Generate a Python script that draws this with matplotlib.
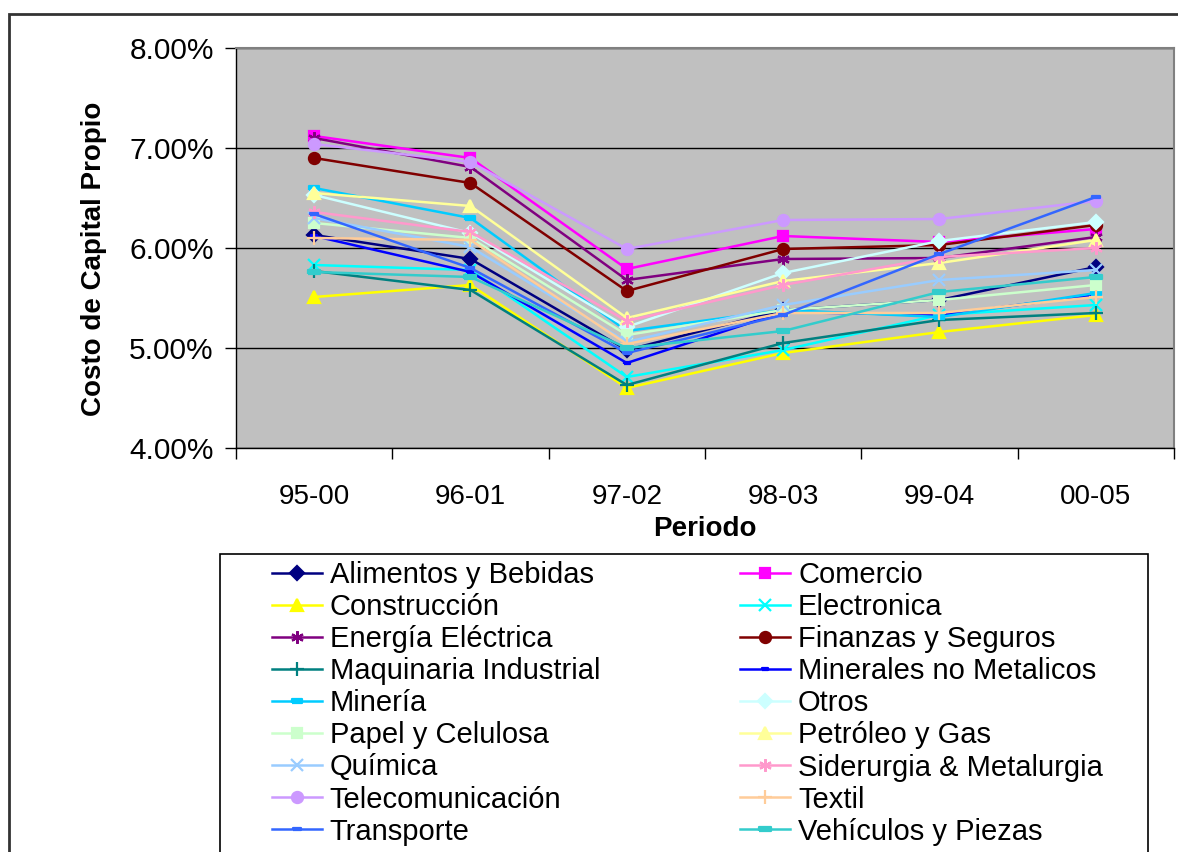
import matplotlib.pyplot as plt
from matplotlib.patches import Rectangle
from matplotlib.ticker import FixedLocator, FuncFormatter

plt.rcParams['font.family'] = ['Liberation Sans', 'DejaVu Sans']

periodos = ['95-00', '96-01', '97-02', '98-03', '99-04', '00-05']

sectores = [
    'Alimentos y Bebidas', 'Comercio', 'Construcción', 'Electronica',
    'Energía Eléctrica', 'Finanzas y Seguros', 'Maquinaria Industrial',
    'Minerales no Metalicos', 'Minería', 'Otros', 'Papel y Celulosa',
    'Petróleo y Gas', 'Química', 'Siderurgia & Metalurgia',
    'Telecomunicación', 'Textil', 'Transporte', 'Vehículos y Piezas',
]

# costo de capital propio (%) por sector y periodo
alimentos = [6.13, 5.89, 4.98, 5.38, 5.48, 5.81]
comercio = [7.12, 6.90, 5.79, 6.12, 6.06, 6.19]
construccion = [5.51, 5.63, 4.60, 4.95, 5.16, 5.33]
electronica = [5.83, 5.78, 4.71, 4.98, 5.33, 5.43]
energia = [7.10, 6.81, 5.68, 5.89, 5.90, 6.11]
finanzas = [6.90, 6.65, 5.57, 5.99, 6.03, 6.23]
maquinaria = [5.77, 5.58, 4.63, 5.05, 5.28, 5.35]
minerales = [6.12, 5.76, 4.85, 5.36, 5.33, 5.53]
mineria = [6.60, 6.30, 5.17, 5.38, 5.31, 5.55]
otros = [6.53, 6.15, 5.21, 5.75, 6.07, 6.26]
papel = [6.25, 6.10, 5.13, 5.38, 5.48, 5.63]
petroleo = [6.55, 6.42, 5.30, 5.67, 5.85, 6.08]
quimica = [6.30, 6.01, 5.06, 5.43, 5.68, 5.78]
siderurgia = [6.36, 6.16, 5.27, 5.63, 5.91, 6.00]
telecom = [7.04, 6.86, 5.99, 6.28, 6.29, 6.47]
textil = [6.10, 6.08, 5.04, 5.35, 5.35, 5.51]
transporte = [6.34, 5.80, 4.95, 5.33, 5.94, 6.51]
vehiculos = [5.76, 5.71, 5.00, 5.17, 5.56, 5.71]

valores = [alimentos, comercio, construccion, electronica, energia, finanzas,
           maquinaria, minerales, mineria, otros, papel, petroleo, quimica,
           siderurgia, telecom, textil, transporte, vehiculos]

colores = ['#000080', '#FF00FF', '#FFFF00', '#00FFFF', '#800080', '#800000',
           '#008080', '#0000FF', '#00CCFF', '#CCFFFF', '#CCFFCC', '#FFFF99',
           '#99CCFF', '#FF99CC', '#CC99FF', '#FFCC99', '#3366FF', '#33CCCC']

guion = [(-1, -0.35), (1, -0.35), (1, 0.35), (-1, 0.35), (-1, -0.35)]
asterisco = (6, 2, 0)
marcadores = ['D', 's', '^', 'x', asterisco, 'o', '+', guion, guion,
              'D', 's', '^', 'x', asterisco, 'o', '+', guion, guion]
tamanos = [7, 7, 8, 8, 9, 8, 10, 5, 7, 7, 7, 8, 8, 9, 8, 10, 6, 8]

fig = plt.figure(figsize=(11.78, 8.52), dpi=100)
W, H = 1178, 852
ax = fig.add_axes([236 / W, 1 - 448 / H, 938 / W, 400 / H])
ax.set_facecolor('#C0C0C0')

x = list(range(len(periodos)))
lineas = []
for nombre, vals, c, m, ms in zip(sectores, valores, colores, marcadores, tamanos):
    ln, = ax.plot(x, vals, color=c, marker=m, markersize=ms, lw=1.8,
                  markerfacecolor=c, markeredgecolor=c, mew=1.6,
                  label=nombre, clip_on=False)
    lineas.append(ln)

ax.set_xlim(-0.5, 5.5)
ax.set_ylim(4, 8)
ax.set_yticks([4, 5, 6, 7, 8])
ax.yaxis.set_major_formatter(FuncFormatter(lambda v, p: f'{v:.2f}%'))
ax.grid(axis='y', color='black', lw=1)
ax.set_axisbelow(True)

ax.set_xticks(x)
ax.set_xticklabels(periodos)
ax.xaxis.set_minor_locator(FixedLocator([i - 0.5 for i in range(7)]))
ax.tick_params(axis='x', which='major', length=0, pad=26, labelsize=20)
ax.tick_params(axis='x', which='minor', length=8, width=1, direction='out')
ax.tick_params(axis='y', length=8, width=1, direction='out', pad=8, labelsize=21.5)

for lado in ['top', 'right']:
    ax.spines[lado].set_color('#808080')
    ax.spines[lado].set_linewidth(1.5)
for lado in ['left', 'bottom']:
    ax.spines[lado].set_color('black')
    ax.spines[lado].set_linewidth(1)

ax.set_ylabel('Costo de Capital Propio', fontsize=20, fontweight='bold')
ax.yaxis.set_label_coords(-0.137, 0.4725)
ax.set_xlabel('Periodo', fontsize=20, fontweight='bold', labelpad=4)

# marco exterior del grafico
fig.add_artist(Rectangle((9 / W, -0.1), 1.2, 1 - 14 / H + 0.1, transform=fig.transFigure,
                         fill=False, edgecolor='#333333', lw=2))

# recuadro de la leyenda
fig.add_artist(Rectangle((220 / W, -0.1), (1148 - 220) / W, 1 - 554 / H + 0.1,
                         transform=fig.transFigure, fill=False, edgecolor='black', lw=1.2))

orden = list(range(0, 18, 2)) + list(range(1, 18, 2))
fig.legend([lineas[i] for i in orden], [sectores[i] for i in orden], ncol=2,
           loc='upper left', bbox_to_anchor=(272 / W, 1 - 561 / H), frameon=False,
           fontsize=21, handlelength=1.7, handletextpad=0.28, labelspacing=0.14,
           columnspacing=4.8, borderpad=0, borderaxespad=0)

fig.savefig('out.png', dpi=100)
